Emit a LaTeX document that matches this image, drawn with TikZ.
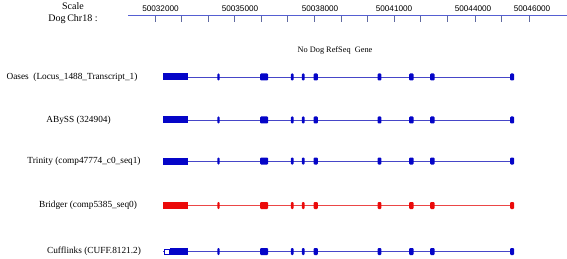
\documentclass[tikz,border=0pt]{standalone}
\usepackage{fontspec}
\setmainfont{Liberation Serif}
\newfontfamily\numfont{Liberation Sans}
\definecolor{exblue}{RGB}{5,5,200}
\definecolor{lnblue}{RGB}{70,70,200}
\definecolor{exred}{RGB}{235,10,10}
\definecolor{lnred}{RGB}{235,70,70}
\definecolor{rulerc}{RGB}{85,95,210}
\definecolor{tickc}{RGB}{95,105,160}
\tikzset{
  lbl/.style={font=\fontsize{9.3}{10}\selectfont, inner sep=0pt, anchor=base},
  numlbl/.style={font=\numfont\fontsize{8.2}{9}\selectfont, inner sep=0pt},
  tickline/.style={tickc, line width=0.9pt},
}
\begin{document}
\begin{tikzpicture}[x=1pt,y=-1pt]
\useasboundingbox (0,0) rectangle (567,259);
% header
\node[font=\fontsize{10}{11}\selectfont, inner sep=0pt] (scale) at (73,6.5) {Scale};
\node[font=\fontsize{10}{11}\selectfont, inner sep=0pt] (chr) at (73,19) {Dog\,Chr18 :};
\coordinate (rs) at (128,15.7);
\coordinate (re) at (567,15.7);
\draw[rulerc, line width=1.1pt] (rs) -- (re);
\foreach \tx in {155,181.5,208,234.5,261,287.5,314,341,367.5,394,420,447,475,501,529}
  \draw[tickline] (\tx,16.2) -- (\tx,21.8);
\foreach \x/\v [count=\i] in {160.5/50032000,240/50035000,320/50038000,394/50041000,473/50044000,532/50046000}
  \node[numlbl] (n\i) at (\x,9) {\v};
\node[font=\fontsize{8.3}{9}\selectfont, inner sep=0pt] (norefseq) at (335,50) {No Dog RefSeq\ \ Gene};
% rows
\foreach \name/\y/\lx/\txt/\ln/\ex in {
  oases/77/72/{Oases\ \ (Locus\_1488\_Transcript\_1)}/lnblue/exblue,
  abyss/120/78.5/{ABySS (324904)}/lnblue/exblue,
  trinity/161/84/{Trinity (comp47774\_c0\_seq1)}/lnblue/exblue,
  bridger/205.5/88/{Bridger (comp5385\_seq0)}/lnred/exred,
  cuff/251.5/94/{Cufflinks (CUFF.8121.2)}/lnblue/exblue}{
  \node[lbl] (\name-label) at (\lx,\y+2.3) {\txt};
  \coordinate (\name-s) at (163,\y);
  \coordinate (\name-e) at (513,\y);
  \draw[\ln, line width=0.9pt] (\name-s) -- (\name-e);
  \foreach \a/\b in {217.3/219.7,260/268,290.8/293.6,301.8/304.6,313.5/317.8,377.5/381.3,409/413.5,430/434.6,510/514}
    \fill[\ex, rounded corners=1pt] (\a,\y-3.5) rectangle (\b,\y+3.5);
}
% first exons
\foreach \name/\y/\ex in {oases/77/exblue,abyss/120/exblue,trinity/161/exblue,bridger/205.5/exred}
  \fill[\ex] (163,\y-3.5) rectangle (188,\y+3.5);
\fill[exblue] (169.5,248) rectangle (188,255);
\draw[exblue, line width=0.6pt, fill=white] (164.5,249) rectangle (169.3,254.2);
\end{tikzpicture}
\end{document}
